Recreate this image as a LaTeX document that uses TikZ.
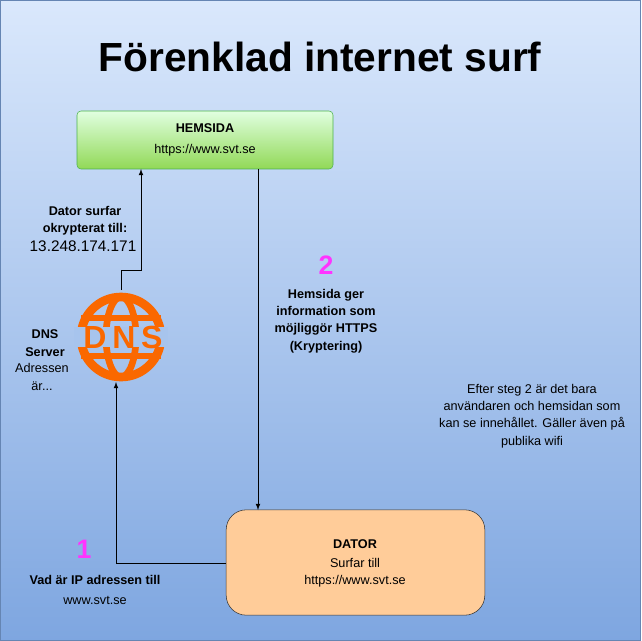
\documentclass[tikz,border=0pt]{standalone}
\usepackage{fontspec}
\setmainfont{Liberation Sans}
\begin{document}
\begin{tikzpicture}[x=0.75pt,y=-0.75pt,
  txt/.style={font=\fontsize{9.5}{13}\selectfont,align=center,inner sep=0},
  btxt/.style={txt,font=\fontsize{9.5}{13}\selectfont\bfseries},
  num/.style={inner sep=0,text={rgb,255:red,255;green,51;blue,255},font=\fontsize{20}{20}\selectfont\bfseries},
  arr/.style={-latex,line width=0.6pt}]
\definecolor{bgtop}{HTML}{DAE8FC}\definecolor{bgbot}{HTML}{7EA6E0}
\definecolor{dnsor}{HTML}{FA6800}
\useasboundingbox (0,0) rectangle (641,641);
\shade[top color=bgtop,bottom color=bgbot,draw=bgbot!80!black] (0.5,0.5) rectangle (640.5,640.5);
\node[inner sep=0,font=\fontsize{30.5}{32}\selectfont\bfseries] (title) at (320,57) {Förenklad internet surf};
\node[draw=green!40!gray,top color=green!12!white,bottom color=green!55!yellow!60!white!85!black,rounded corners=3pt,minimum width=192pt,minimum height=43.5pt] (hem) at (205,140) {};
\node[btxt] at (205,128) {HEMSIDA};
\node[txt] at (205,150) {https://www.svt.se};
\node[draw=black!80,fill=orange!40!white,rounded corners=15pt,minimum width=194pt,minimum height=79pt] (dator) at (355.5,562.5) {};
\node[btxt] at (355,544) {DATOR};
\node[txt] at (355,563) {Surfar till};
\node[txt] at (355,581) {https://www.svt.se};
% DNS icon
\coordinate (dns) at (121,337);
\draw[dnsor,line width=6.5pt] (dns) circle (40);
\draw[dnsor,line width=5pt] (dns) ellipse (15 and 40);
\draw[dnsor,line width=5pt] (81,318) -- (161,318);
\draw[dnsor,line width=5pt] (81,356) -- (161,356);
\fill[bgtop!45!bgbot] (74,327) rectangle (168,347);
\node[inner sep=0,text=dnsor,font=\fontsize{24}{24}\selectfont\bfseries\addfontfeature{LetterSpace=18}] at (123,337) {DNS};
\draw[arr] (dator.west |- 0,563) -- (116,563) -- (116,382);
\draw[arr] (121,290) -- (121,270) -- (141,270) -- (141,169);
\draw[arr] (258,169) -- (258,510);
\node[btxt] at (85,221) {Dator surfar\\okrypterat till:};
\node[txt,font=\fontsize{11.5}{13}\selectfont] at (83,246) {13.248.174.171};
\node[num] at (326,265) {2};
\node[btxt] at (326,321) {Hemsida ger\\information som\\möjliggör HTTPS\\(Kryptering)};
\node[btxt] at (45,343) {DNS\\Server};
\node[txt] at (42,377) {Adressen\\är...};
\node[txt] at (532,416) {Efter steg 2 är det bara\\användaren och hemsidan som\\kan se innehållet. Gäller även på\\publika wifi};
\node[num] at (84,549) {1};
\node[btxt] at (95,580) {Vad är IP adressen till};
\node[txt] at (95,600) {www.svt.se};
\end{tikzpicture}
\end{document}
